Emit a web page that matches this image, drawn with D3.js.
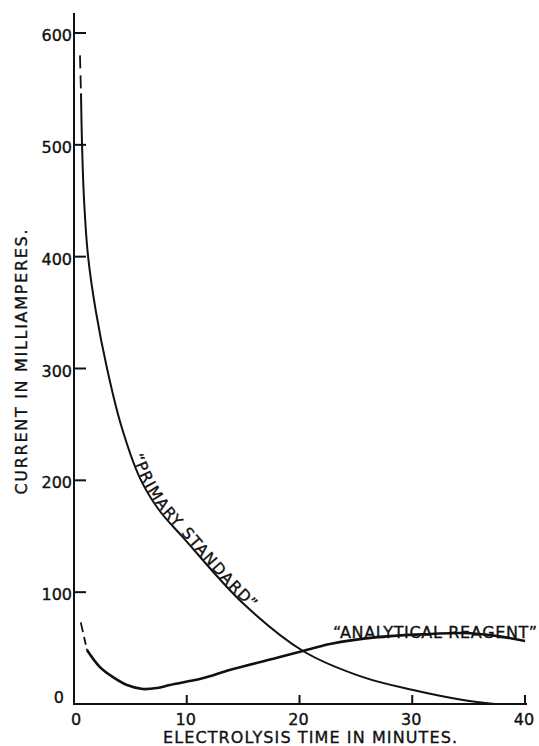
<!DOCTYPE html>
<html>
<head>
<meta charset="utf-8">
<script src="https://cdn.jsdelivr.net/npm/d3@7"></script>
<style>
  body { margin: 0; background: #fff; }
  svg { display: block; }
</style>
</head>
<body>
<svg id="chart" width="539" height="746"></svg>
<script>
// Electrolysis current vs time, two samples.
const primaryTime    = [0.62, 0.71, 0.89, 1.24, 1.95, 2.93, 4.17, 5.85, 7.54, 9.67, 14.99, 20.31, 25.63, 30.07, 34.5, 37.34];
const primaryCurrent = [546, 501, 451, 401, 350.5, 300, 249.5, 202, 173.5, 149, 90, 47.4, 24, 12.5, 3.6, 0];
const primaryLeadTime    = [0.53, 0.62];
const primaryLeadCurrent = [580, 546];

const reagentTime    = [1.15, 2.3, 3.46, 4.7, 6.1, 7.36, 8.5, 11.4, 13.8, 18.26, 20.3, 22.7, 27.1, 31.6, 34.5, 37.5, 40];
const reagentCurrent = [48.3, 33, 24, 17, 13.4, 14.3, 17, 23, 30.4, 42, 47.4, 53.7, 60, 62.6, 63.5, 60.8, 56.4];
const reagentLeadTime    = [0.6, 1.15];
const reagentLeadCurrent = [73, 48.3];

const xTicks = [0, 10, 20, 30, 40];
const yTicks = [0, 100, 200, 300, 400, 500, 600];
const xTitle = 'ELECTROLYSIS TIME IN MINUTES.';
const yTitle = 'CURRENT IN MILLIAMPERES.';
const primaryLabel = '\u201CPRIMARY STANDARD\u201D';
const reagentLabel = '\u201CANALYTICAL REAGENT\u201D';

const FONT = '"DejaVu Sans", sans-serif';
const INK = '#111';

const svg = d3.select('#chart');
const x = d3.scaleLinear().domain([0, 40]).range([74, 525]);
const y = d3.scaleLinear().domain([0, 600]).range([704, 33]);

const zip = (ts, vs) => ts.map((t, i) => [t, vs[i]]);
const line = d3.line().x(d => x(d[0])).y(d => y(d[1])).curve(d3.curveCatmullRom.alpha(0.5));
const straight = d3.line().x(d => x(d[0])).y(d => y(d[1]));

// lettering in the scan is a bit heavier than a plain regular face
const letter = sel => sel
  .style('font-family', FONT).style('font-size', '16px')
  .style('fill', INK).style('stroke', INK).style('stroke-width', 0.35);

// axes
svg.append('line')
  .attr('x1', x(0)).attr('y1', 13).attr('x2', x(0)).attr('y2', y(0))
  .style('stroke', INK).style('stroke-width', 2);
svg.append('line')
  .attr('x1', x(0) - 1).attr('y1', y(0)).attr('x2', x(40) + 2).attr('y2', y(0))
  .style('stroke', INK).style('stroke-width', 2.2);

const yt = yTicks.filter(v => v > 0);
svg.selectAll('.ytick').data(yt).join('line')
  .attr('class', 'ytick')
  .attr('x1', x(0)).attr('x2', x(0) + 12)
  .attr('y1', d => y(d)).attr('y2', d => y(d))
  .style('stroke', INK).style('stroke-width', 2);
svg.selectAll('.ylab').data(yTicks).join('text')
  .attr('class', 'ylab')
  .attr('x', d => d === 0 ? x(0) - 10 : x(0) - 2)
  .attr('y', d => d === 0 ? y(d) - 1 : y(d) + 8)
  .attr('text-anchor', 'end')
  .call(letter)
  .text(d => d);

const xt = xTicks.filter(v => v > 0);
svg.selectAll('.xtick').data(xt).join('line')
  .attr('class', 'xtick')
  .attr('x1', d => x(d)).attr('x2', d => x(d))
  .attr('y1', y(0)).attr('y2', y(0) - 9)
  .style('stroke', INK).style('stroke-width', 2);
svg.selectAll('.xlab').data(xTicks).join('text')
  .attr('class', 'xlab')
  .attr('x', d => x(d) + (d === 0 ? 2 : -1))
  .attr('y', 725)
  .attr('text-anchor', 'middle')
  .call(letter)
  .text(d => d);

svg.append('text')
  .attr('x', 310).attr('y', 743)
  .attr('text-anchor', 'middle')
  .attr('textLength', 294).attr('lengthAdjust', 'spacing')
  .call(letter)
  .text(xTitle);

svg.append('text')
  .attr('transform', 'translate(27,362) rotate(-90)')
  .attr('text-anchor', 'middle')
  .attr('textLength', 265).attr('lengthAdjust', 'spacing')
  .call(letter)
  .text(yTitle);

// curves
const psPath = svg.append('path')
  .attr('id', 'ps-curve')
  .attr('d', line(zip(primaryTime, primaryCurrent)))
  .style('fill', 'none').style('stroke', INK).style('stroke-width', 2);
svg.append('path')
  .attr('d', straight(zip(primaryLeadTime, primaryLeadCurrent)))
  .style('fill', 'none').style('stroke', INK).style('stroke-width', 1.8)
  .style('stroke-dasharray', '13,7,13,5');

svg.append('path')
  .attr('d', line(zip(reagentTime, reagentCurrent)))
  .style('fill', 'none').style('stroke', INK).style('stroke-width', 2.6);
svg.append('path')
  .attr('d', straight(zip(reagentLeadTime, reagentLeadCurrent)))
  .style('fill', 'none').style('stroke', INK).style('stroke-width', 1.8)
  .style('stroke-dasharray', '10,5,8,4');

// label following the primary standard curve
const node = psPath.node();
const total = node.getTotalLength();
function lengthAtY(target) {
  for (let l = 0; l <= total; l += 0.5) {
    if (node.getPointAtLength(l).y >= target) return l;
  }
  return total;
}
const l0 = lengthAtY(456), l1 = lengthAtY(611);
const psText = svg.append('text')
  .attr('dy', -1)
  .call(letter)
  .style('font-size', '15.5px');
psText.append('textPath')
  .attr('href', '#ps-curve')
  .attr('startOffset', l0)
  .text(primaryLabel);
const natural = psText.node().getComputedTextLength();
psText.style('letter-spacing', `${(l1 - l0 - natural) / primaryLabel.length}px`);

svg.append('text')
  .attr('x', 435).attr('y', 638)
  .attr('text-anchor', 'middle')
  .attr('textLength', 204).attr('lengthAdjust', 'spacing')
  .call(letter)
  .text(reagentLabel);
</script>
</body>
</html>
